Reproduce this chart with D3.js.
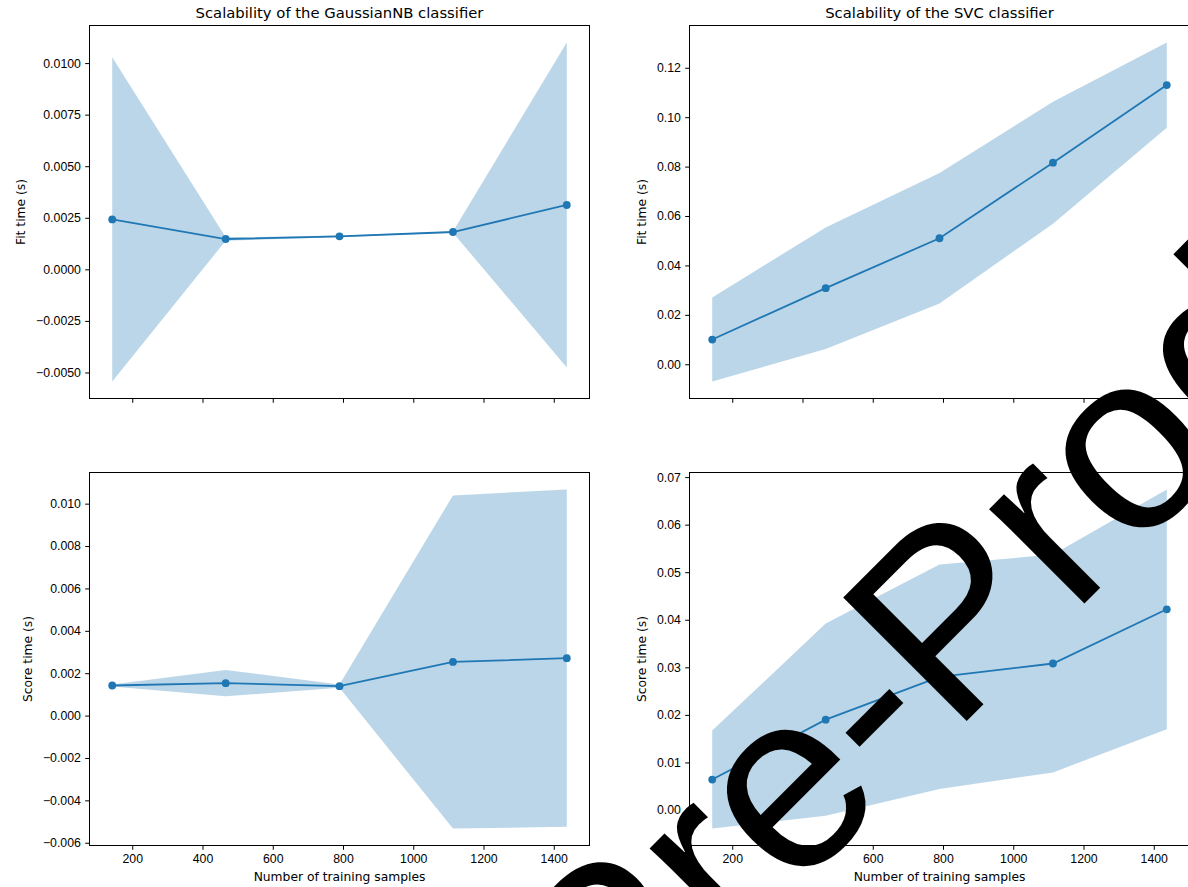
<!DOCTYPE html>
<html>
<head>
<meta charset="utf-8">
<script src="https://cdn.jsdelivr.net/npm/d3@7"></script>
<style>
  body { margin: 0; background: #fff; }
  svg { display: block; font-family: "DejaVu Sans", sans-serif; }
  .axis text { font-size: 12.3px; fill: #000; }
  .axis line { stroke: #000; stroke-width: 1; }
  .title { font-size: 14.8px; fill: #000; }
  .label { font-size: 12.3px; fill: #000; }
</style>
</head>
<body>
<svg id="chart" width="1188" height="887"></svg>
<script>
const trainSizes = [143, 466, 790, 1113, 1437];
const xTicks = [200, 400, 600, 800, 1000, 1200, 1400];

// GaussianNB
const nbFitMean = [0.00242, 0.00147, 0.00160, 0.00181, 0.00312];
const nbFitStd = [0.00786, 0.00008, 0.00004, 0.00003, 0.00788];
const nbScoreMean = [0.00142, 0.00153, 0.00139, 0.00253, 0.00271];
const nbScoreStd = [0.00005, 0.00062, 0.00008, 0.00786, 0.00796];

// SVC
const svcFitMean = [0.0100, 0.0308, 0.0510, 0.0816, 0.1130];
const svcFitStd = [0.0170, 0.0246, 0.0264, 0.0247, 0.01725];
const svcScoreMean = [0.0064, 0.0190, 0.0280, 0.0308, 0.0422];
const svcScoreStd = [0.0103, 0.0202, 0.0236, 0.0229, 0.0252];

const nbFitTicks = [-0.005, -0.0025, 0, 0.0025, 0.005, 0.0075, 0.01];
const svcFitTicks = [0, 0.02, 0.04, 0.06, 0.08, 0.10, 0.12];
const nbScoreTicks = [-0.006, -0.004, -0.002, 0, 0.002, 0.004, 0.006, 0.008, 0.010];
const svcScoreTicks = [0, 0.01, 0.02, 0.03, 0.04, 0.05, 0.06, 0.07];

const color = "#1f77b4";
const colX = [89.5, 689.5];
const rowY = [25.5, 472.5];
const axW = 500;
const axH = 373;

const panels = [
  { col: 0, row: 0, title: "Scalability of the GaussianNB classifier", ylabel: "Fit time (s)",
    mean: nbFitMean, std: nbFitStd, ticks: nbFitTicks, fmt: ".4f" },
  { col: 1, row: 0, title: "Scalability of the SVC classifier", ylabel: "Fit time (s)",
    mean: svcFitMean, std: svcFitStd, ticks: svcFitTicks, fmt: ".2f" },
  { col: 0, row: 1, ylabel: "Score time (s)",
    mean: nbScoreMean, std: nbScoreStd, ticks: nbScoreTicks, fmt: ".3f" },
  { col: 1, row: 1, ylabel: "Score time (s)",
    mean: svcScoreMean, std: svcScoreStd, ticks: svcScoreTicks, fmt: ".2f" },
];

const svg = d3.select("#chart");

// matplotlib-like 5% margins
const padded = (lo, hi) => {
  const m = (hi - lo) * 0.05;
  return [lo - m, hi + m];
};

const x = d3.scaleLinear()
  .domain(padded(d3.min(trainSizes), d3.max(trainSizes)))
  .range([0, axW]);

panels.forEach((p) => {
  const rows = trainSizes.map((s, i) => ({
    size: s,
    mean: p.mean[i],
    lo: p.mean[i] - p.std[i],
    hi: p.mean[i] + p.std[i],
  }));

  const y = d3.scaleLinear()
    .domain(padded(d3.min(rows, (d) => d.lo), d3.max(rows, (d) => d.hi)))
    .range([axH, 0]);

  const g = svg.append("g").attr("transform", `translate(${colX[p.col]},${rowY[p.row]})`);

  const area = d3.area()
    .x((d) => x(d.size))
    .y0((d) => y(d.lo))
    .y1((d) => y(d.hi));

  g.append("path")
    .datum(rows)
    .attr("d", area)
    .attr("fill", color)
    .attr("fill-opacity", 0.3);

  g.append("path")
    .datum(rows)
    .attr("d", d3.line().x((d) => x(d.size)).y((d) => y(d.mean)))
    .attr("fill", "none")
    .attr("stroke", color)
    .attr("stroke-width", 1.8);

  g.selectAll(".dot")
    .data(rows)
    .join("circle")
    .attr("class", "dot")
    .attr("cx", (d) => x(d.size))
    .attr("cy", (d) => y(d.mean))
    .attr("r", 3.9)
    .attr("fill", color);

  const xAxis = d3.axisBottom(x)
    .tickValues(xTicks)
    .tickFormat(d3.format("d"))
    .tickSize(4.3)
    .tickPadding(4.3);
  if (p.row === 0) xAxis.tickFormat("");

  g.append("g")
    .attr("class", "axis")
    .attr("transform", `translate(0,${axH})`)
    .call(xAxis)
    .call((s) => s.select(".domain").remove());

  const yAxisGroup = g.append("g")
    .attr("class", "axis")
    .call(d3.axisLeft(y).tickValues(p.ticks).tickFormat(d3.format(p.fmt)).tickSize(4.3).tickPadding(4.3))
    .call((s) => s.select(".domain").remove());

  g.append("rect")
    .attr("width", axW)
    .attr("height", axH)
    .attr("fill", "none")
    .attr("stroke", "#000")
    .attr("stroke-width", 1);

  if (p.title) {
    g.append("text")
      .attr("class", "title")
      .attr("x", axW / 2)
      .attr("y", -7.4)
      .attr("text-anchor", "middle")
      .text(p.title);
  }

  const box = yAxisGroup.node().getBBox();
  g.append("text")
    .attr("class", "label")
    .attr("transform", `translate(${box.x - 11},${axH / 2}) rotate(-90)`)
    .attr("text-anchor", "middle")
    .text(p.ylabel);

  if (p.row === 1) {
    g.append("text")
      .attr("class", "label")
      .attr("x", axW / 2)
      .attr("y", axH + 35.5)
      .attr("text-anchor", "middle")
      .text("Number of training samples");
  }
});

// large rotated overlay text
svg.append("text")
  .attr("transform", "translate(612.8,1075.1) rotate(-45)")
  .attr("font-family", "'Liberation Sans', Arial, sans-serif")
  .attr("font-size", 254)
  .attr("fill", "#000")
  .text("Pre-Production");
</script>
</body>
</html>
